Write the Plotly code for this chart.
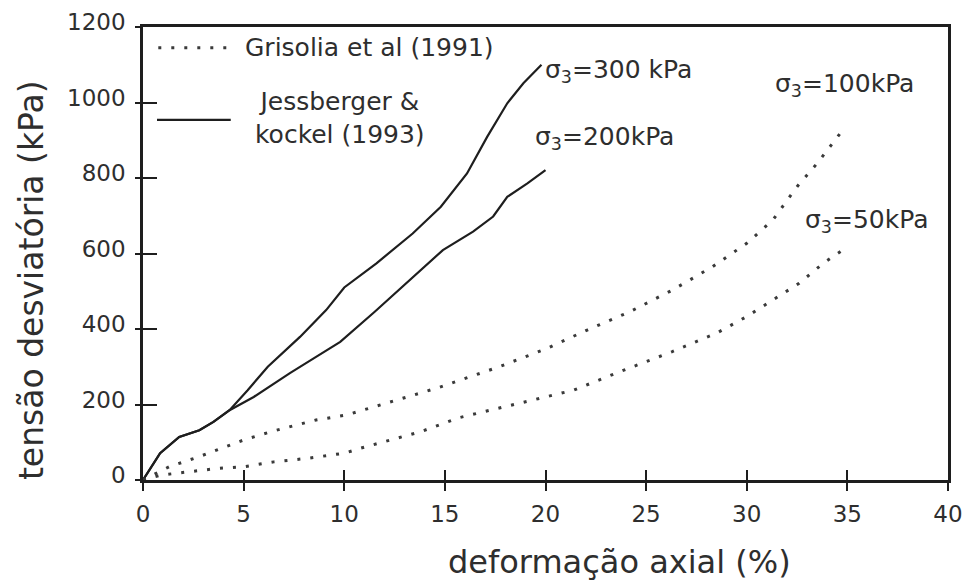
import plotly.graph_objects as go

# ---- data ----
x_300 = [0, 0.85, 1.8, 2.8, 3.5, 4.3, 5.2, 6.2, 7.8, 9.1, 10.0, 11.6, 13.4, 14.8, 16.1, 17.1, 18.1, 18.9, 19.8]
y_300 = [0, 71, 114, 132, 154, 185, 238, 300, 379, 450, 510, 574, 653, 724, 812, 909, 998, 1051, 1100]

x_200 = [0, 0.85, 1.8, 2.8, 3.5, 4.3, 5.5, 7.3, 8.6, 9.8, 11.5, 13.1, 14.9, 16.4, 17.4, 18.1, 19.1, 20.0]
y_200 = [0, 71, 114, 132, 154, 185, 220, 283, 326, 366, 445, 521, 609, 658, 698, 750, 786, 821]

x_100 = [0, 1.3, 2.8, 5.0, 6.5, 8.6, 10.1, 12.3, 14.7, 17.7, 20.0, 22.1, 24.2, 26.3, 28.3, 30.0, 31.3, 32.5, 33.5, 34.9]
y_100 = [0, 35, 62, 106, 130, 159, 172, 207, 245, 300, 347, 398, 446, 503, 565, 627, 689, 777, 839, 936]

x_50 = [0, 0.9, 2.3, 3.8, 5.0, 6.5, 8.1, 10.0, 10.8, 12.3, 13.8, 15.7, 18.7, 21.4, 23.7, 26.3, 28.5, 30.0, 31.3, 32.6, 33.8, 34.9]
y_50 = [0, 13, 22, 31, 35, 48, 57, 71, 84, 106, 128, 165, 203, 238, 287, 340, 389, 433, 477, 521, 574, 614]

x_ticks = [0, 5, 10, 15, 20, 25, 30, 35, 40]
y_ticks = [0, 200, 400, 600, 800, 1000, 1200]

labels = ["σ<sub>3</sub>=300 kPa", "σ<sub>3</sub>=200kPa", "σ<sub>3</sub>=100kPa", "σ<sub>3</sub>=50kPa"]
label_pos = [(19.9, 1083), (19.4, 906), (31.3, 1046), (32.8, 686)]

legend_names = ["Grisolia et al (1991)", "Jessberger &<br>kockel (1993)"]

x_title = "deformação axial (%)"
y_title = "tensão desviatória (kPa)"

# ---- styling ----
FONT = "DejaVu Sans"
TXT = "#2e2e2e"
LINE = "#1e1e1e"
DOT = "#3a3a3a"
dotted = dict(color=DOT, width=3, dash="3px,10px")
solid = dict(color=LINE, width=2.2)

fig = go.Figure()
fig.add_trace(go.Scatter(x=x_300, y=y_300, mode="lines", line=solid, name=legend_names[1], showlegend=False))
fig.add_trace(go.Scatter(x=x_200, y=y_200, mode="lines", line=solid, name=legend_names[1], showlegend=False))
fig.add_trace(go.Scatter(x=x_100, y=y_100, mode="lines", line=dotted, name=legend_names[0], showlegend=False))
fig.add_trace(go.Scatter(x=x_50, y=y_50, mode="lines", line=dotted, name=legend_names[0], showlegend=False))
# helper trace for the overlay axes (inner tick halves)
fig.add_trace(go.Scatter(x=[None], y=[None], xaxis="x2", yaxis="y2", showlegend=False, hoverinfo="skip"))

axis_common = dict(showgrid=False, zeroline=False, automargin=False)
fig.update_layout(
    width=965, height=581,
    autosize=False,
    margin=dict(l=143, r=17, t=27, b=101, autoexpand=False),
    paper_bgcolor="white", plot_bgcolor="white",
    font=dict(family=FONT, color=TXT),
    showlegend=False,
    xaxis=dict(range=[0, 40], tickvals=x_ticks, ticks="outside", ticklen=8, tickwidth=2, tickcolor=LINE,
               showline=True, linecolor=LINE, linewidth=2.5, mirror=True,
               tickfont=dict(family=FONT, size=23, color=TXT), ticklabelstandoff=4, **axis_common),
    yaxis=dict(range=[0, 1200], tickvals=y_ticks, ticks="outside", ticklen=5, tickwidth=2, tickcolor=LINE,
               showline=True, linecolor=LINE, linewidth=2.5, mirror=True, ticklabelshift=-5,
               tickfont=dict(family=FONT, size=23, color=TXT), ticklabelstandoff=5, **axis_common),
    xaxis2=dict(range=[0, 40], tickvals=x_ticks, ticks="inside", ticklen=10, tickwidth=2, tickcolor=LINE,
                showticklabels=False, showline=False, overlaying="x", anchor="y2", **axis_common),
    yaxis2=dict(range=[0, 1200], tickvals=y_ticks, ticks="inside", ticklen=14, tickwidth=2, tickcolor=LINE,
                showticklabels=False, showline=False, overlaying="y", anchor="x2", **axis_common),
)

# curve labels
for txt, (lx, ly) in zip(labels, label_pos):
    fig.add_annotation(x=lx, y=ly, text=txt, showarrow=False, xanchor="left", yanchor="middle",
                       font=dict(family=FONT, size=25, color=TXT))

# legend drawn manually (long sample lines)
fig.add_shape(type="line", xref="paper", yref="paper", x0=0.019, x1=0.108, y0=0.954, y1=0.954,
              line=dotted)
fig.add_shape(type="line", xref="paper", yref="paper", x0=0.0174, x1=0.109, y0=0.795, y1=0.795,
              line=solid)
fig.add_annotation(xref="paper", yref="paper", x=0.124, y=0.954, text=legend_names[0], showarrow=False,
                   xanchor="left", yanchor="middle", font=dict(family=FONT, size=25, color=TXT))
fig.add_annotation(xref="paper", yref="paper", x=0.245, y=0.80, text=legend_names[1], showarrow=False,
                   xanchor="center", yanchor="middle", align="center",
                   font=dict(family=FONT, size=25, color=TXT))

# axis titles
fig.add_annotation(xref="paper", yref="paper", x=0.5925, y=-0.181, text=x_title, showarrow=False,
                   xanchor="center", yanchor="middle", font=dict(family=FONT, size=32, color=TXT))
fig.add_annotation(xref="paper", yref="paper", x=-0.139, y=0.4415, text=y_title, showarrow=False,
                   textangle=-90, xanchor="center", yanchor="middle",
                   font=dict(family=FONT, size=33, color=TXT))

# remove the default 8px page margin so the figure sits at the window's top-left corner
fig.write_html("out.html", config={"displayModeBar": False, "responsive": False},
               default_width="965px", default_height="581px",
               post_script="document.body.style.margin='0';document.body.style.overflow='hidden';")
